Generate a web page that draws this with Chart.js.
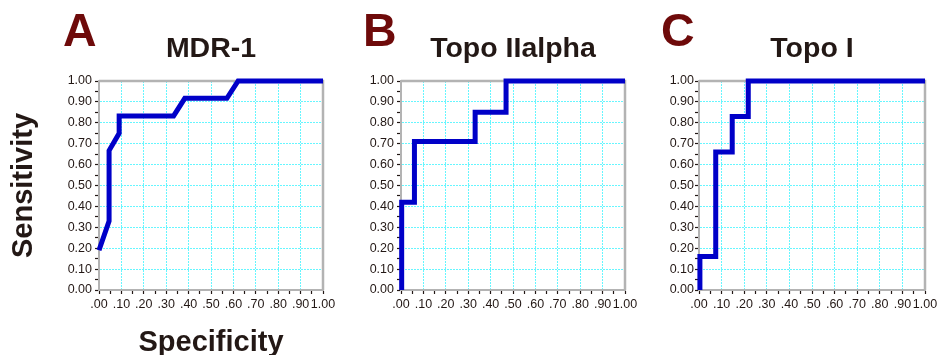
<!DOCTYPE html>
<html>
<head>
<meta charset="utf-8">
<script src="https://cdn.jsdelivr.net/npm/chart.js@4.4.1/dist/chart.umd.min.js"></script>
<style>
  body { margin: 0; background: #fff; width: 941px; height: 355px; overflow: hidden; position: relative;
         font-family: "Liberation Sans", Arial, sans-serif; }
  canvas { position: absolute; top: 0; }
  .letter { position: absolute; top: 7px; font-size: 46.5px; line-height: 1; font-weight: bold; color: #6e0a0a; }
  .title { position: absolute; top: 33px; font-size: 28.5px; line-height: 1; font-weight: bold; color: #231815;
           text-align: center; white-space: nowrap; }
</style>
</head>
<body>
<canvas id="chartA" style="left:0px" width="345" height="355"></canvas>
<canvas id="chartB" style="left:330px" width="311" height="355"></canvas>
<canvas id="chartC" style="left:640px" width="301" height="355"></canvas>

<div class="letter" style="left:63px">A</div>
<div class="letter" style="left:363px">B</div>
<div class="letter" style="left:661px">C</div>
<div class="title" style="left:99px; width:224px">MDR-1</div>
<div class="title" style="left:401px; width:224px">Topo IIalpha</div>
<div class="title" style="left:699px; width:226px">Topo I</div>

<script>
// Datos (x = Specificity, y = Sensitivity)
const specA = [0, 0.045, 0.045, 0.09, 0.09, 0.333, 0.383, 0.571, 0.621, 1.0];
const sensA = [0.19, 0.33, 0.667, 0.75, 0.833, 0.833, 0.917, 0.917, 1.0, 1.0];

const specB = [0.003, 0.003, 0.06, 0.06, 0.331, 0.331, 0.469, 0.469, 1.0];
const sensB = [0, 0.42, 0.42, 0.71, 0.71, 0.85, 0.85, 1.0, 1.0];

const specC = [0.004, 0.004, 0.074, 0.074, 0.147, 0.147, 0.218, 0.218, 1.0];
const sensC = [0, 0.16, 0.16, 0.66, 0.66, 0.83, 0.83, 1.0, 1.0];

// Ticks: mayores cada 0.10, menores cada 0.05
const tickStep = 0.05;

const fontFamily = '"Liberation Sans", Arial, sans-serif';
const textColor = '#231815';
const gridCyan = '#66f6ff';
const frameGray = '#b3b3b3';

function isMajor(v) {
    return Math.round(v * 100) % 10 === 0;
}

// Marco gris arriba y a la derecha del área del gráfico
const framePlugin = {
    id: 'frame',
    beforeDatasetsDraw(chart) {
        const a = chart.chartArea;
        const ctx = chart.ctx;
        ctx.save();
        ctx.strokeStyle = frameGray;
        ctx.lineWidth = 2.5;
        ctx.beginPath();
        ctx.moveTo(a.left, a.top);
        ctx.lineTo(a.right, a.top);
        ctx.lineTo(a.right, a.bottom);
        ctx.stroke();
        ctx.restore();
    }
};

function makeRoc(id, spec, sens, cfg) {
    const ctx = document.getElementById(id).getContext('2d');
    return new Chart(ctx, {
        type: 'line',
        data: {
            datasets: [{
                data: spec.map((x, i) => ({ x: x, y: sens[i] })),
                borderColor: '#0000c8',
                borderWidth: 5,
                pointRadius: 0,
                tension: 0,
                borderJoinStyle: 'miter',
                borderCapStyle: 'butt',
                clip: false
            }]
        },
        options: {
            responsive: false,
            animation: false,
            layout: { padding: { left: 0, top: 81, right: cfg.padRight, bottom: 0 } },
            plugins: { legend: { display: false }, tooltip: { enabled: false } },
            scales: {
                x: {
                    type: 'linear',
                    min: 0,
                    max: 1,
                    ticks: {
                        stepSize: tickStep,
                        autoSkip: false,
                        maxRotation: 0,
                        padding: 3,
                        color: textColor,
                        font: { size: 12.5, family: fontFamily },
                        callback: v => isMajor(v) ? (Math.round(v * 100) === 100 ? '1.00' : v.toFixed(2).substring(1)) : ''
                    },
                    grid: {
                        color: c => isMajor(c.tick.value) ? gridCyan : 'rgba(0,0,0,0)',
                        tickColor: textColor,
                        tickLength: 4,
                        lineWidth: 1,
                        tickWidth: 1.2
                    },
                    border: { color: frameGray, width: 2, dash: [2, 1] },
                    title: {
                        display: !!cfg.xTitle,
                        text: cfg.xTitle || '',
                        color: textColor,
                        font: { size: 29, weight: 'bold', family: fontFamily, lineHeight: 1 },
                        padding: { top: 0, bottom: -2 }
                    },
                    afterFit: s => { s.height = 65; }
                },
                y: {
                    type: 'linear',
                    min: 0,
                    max: 1,
                    ticks: {
                        stepSize: tickStep,
                        autoSkip: false,
                        padding: cfg.labelPad,
                        color: textColor,
                        font: { size: 12.5, family: fontFamily },
                        callback: v => isMajor(v) ? v.toFixed(2) : ''
                    },
                    grid: {
                        color: c => isMajor(c.tick.value) ? gridCyan : 'rgba(0,0,0,0)',
                        tickColor: textColor,
                        tickLength: 4,
                        lineWidth: 1,
                        tickWidth: 1.2
                    },
                    border: { color: frameGray, width: 2, dash: [2, 1] },
                    title: {
                        display: !!cfg.yTitle,
                        text: cfg.yTitle || '',
                        color: textColor,
                        font: { size: 29, weight: 'bold', family: fontFamily, lineHeight: 1 },
                        padding: { top: 9, bottom: 0 }
                    },
                    afterFit: s => { s.width = cfg.axisW; }
                }
            }
        },
        plugins: [framePlugin]
    });
}

makeRoc('chartA', specA, sensA, { axisW: 99, padRight: 22, labelPad: 3, yTitle: 'Sensitivity', xTitle: 'Specificity' });
makeRoc('chartB', specB, sensB, { axisW: 71, padRight: 16, labelPad: 3 });
makeRoc('chartC', specC, sensC, { axisW: 59, padRight: 16, labelPad: 1 });
</script>
</body>
</html>
